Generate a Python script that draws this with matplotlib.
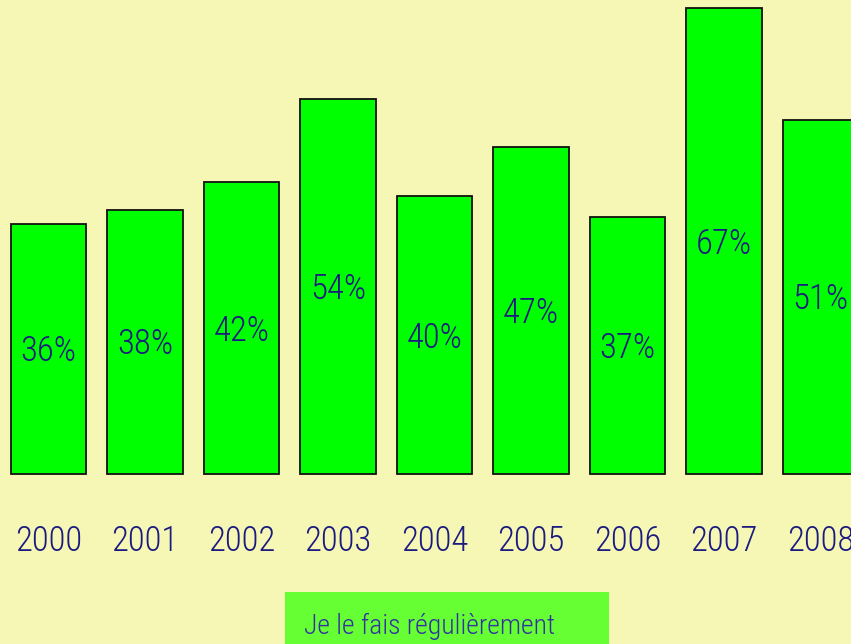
import matplotlib.pyplot as plt
from matplotlib.patches import Rectangle

years = ['2000', '2001', '2002', '2003', '2004', '2005', '2006', '2007', '2008']
values = [36, 38, 42, 54, 40, 47, 37, 67, 51]
series_name = 'Je le fais régulièrement'

plt.rcParams['font.family'] = ['Roboto Condensed', 'DejaVu Sans']
plt.rcParams['font.stretch'] = 'condensed'
plt.rcParams['font.weight'] = 'light'

bg = '#f7f7b5'
fig = plt.figure(figsize=(8.51, 6.44), dpi=100, facecolor=bg)
ax = fig.add_axes([0, 0, 1, 1])
ax.set_facecolor(bg)

x = list(range(len(values)))
ax.bar(x, values, width=0.78, color='#00ff00', edgecolor='#111111', linewidth=1.3)

for i, v in enumerate(values):
    ax.text(i, v / 2 - 0.4, '%d%%' % v, ha='center', va='center', fontsize=25, color='#1a1a80')
    ax.text(i, -9.7, years[i], ha='center', va='center', fontsize=25, color='#1a1a80')

ax.set_xlim(-0.5026, 8.316)
ax.set_ylim(-24.46, 68.2)
ax.axis('off')

# legend box
fig.patches.append(Rectangle((285 / 851, 0), (609 - 285) / 851, 52 / 644,
                             transform=fig.transFigure, facecolor='#66ff33',
                             edgecolor='none'))
fig.text(304 / 851, 18 / 644, series_name, ha='left', va='center', fontsize=20, color='#3333a0')

plt.savefig('out.png', dpi=100, facecolor=bg)
